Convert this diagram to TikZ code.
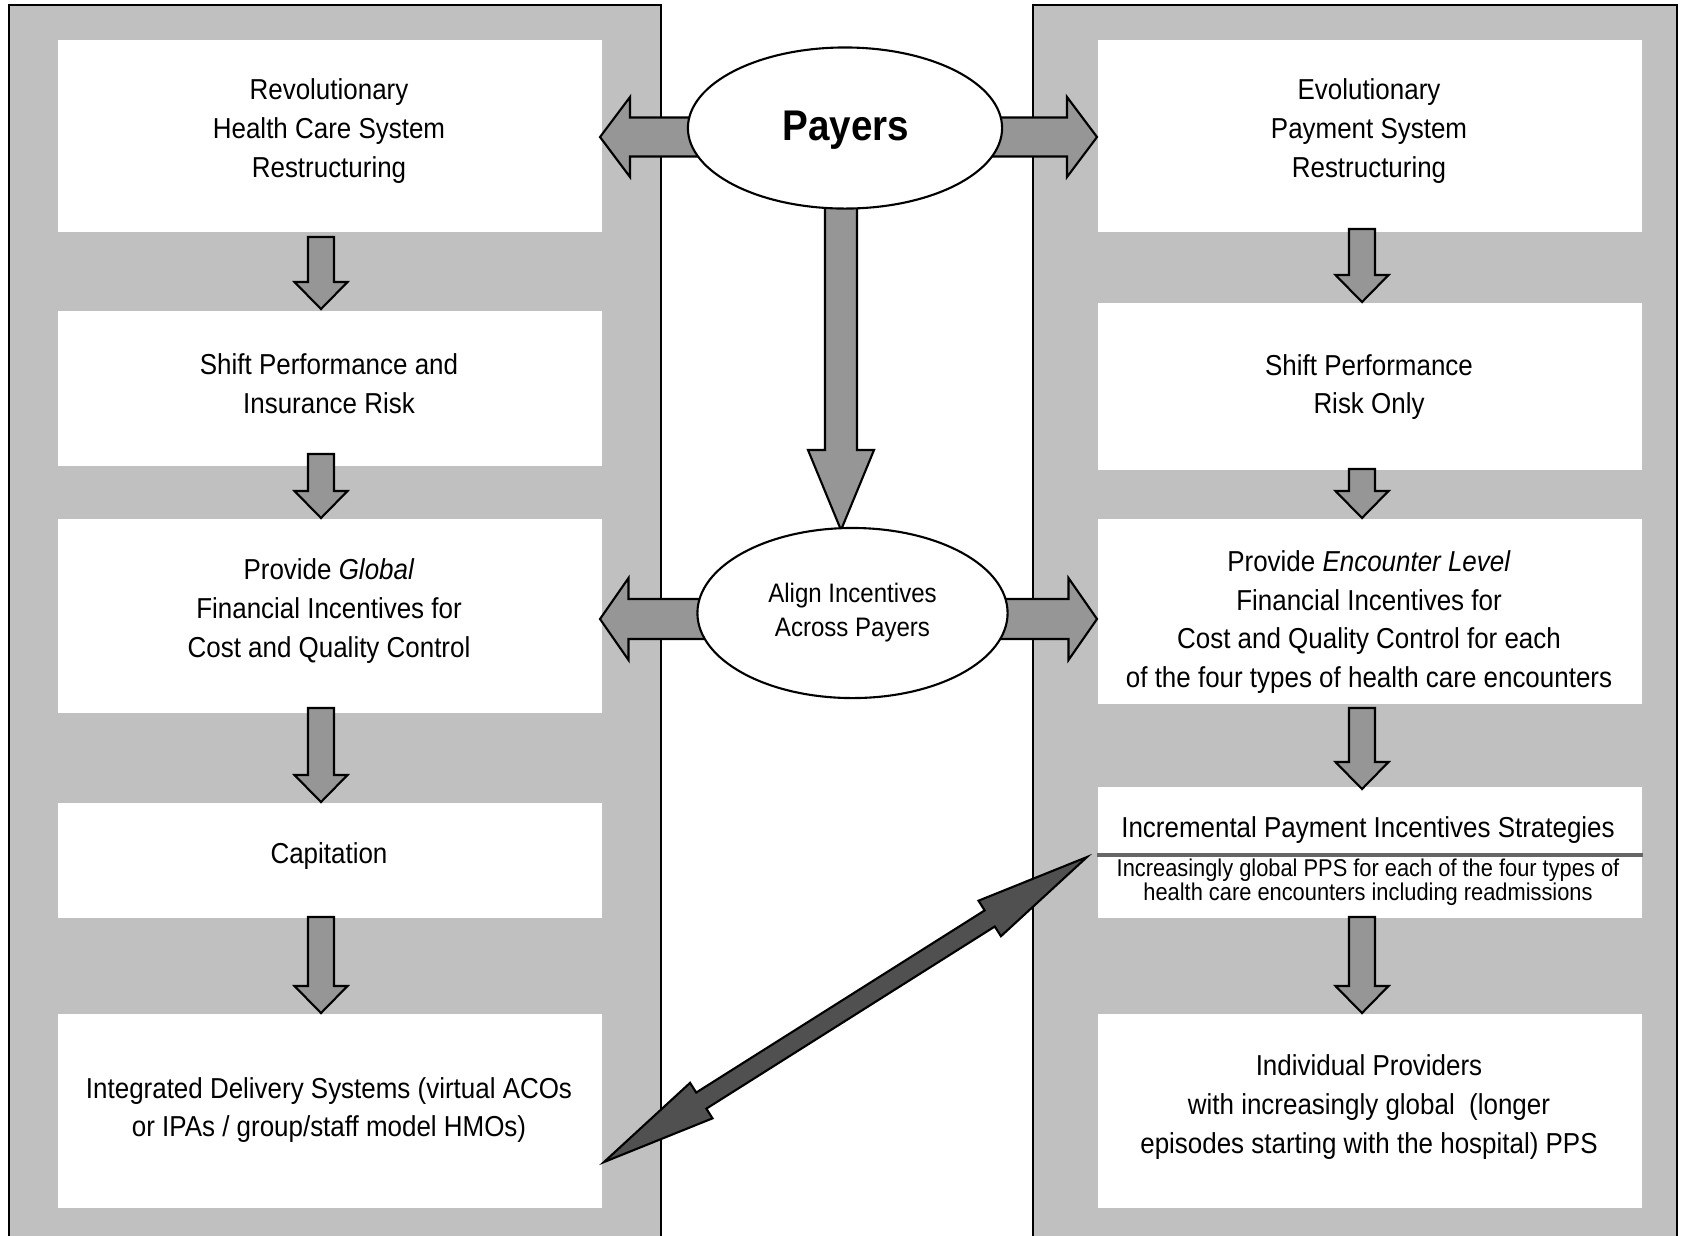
\documentclass[tikz,border=0pt]{standalone}
\usepackage{fontspec}
\setmainfont{Liberation Sans}[FakeStretch=0.90]
\usetikzlibrary{calc,shapes.geometric}
\definecolor{panelgray}{HTML}{C0C0C0}
\definecolor{arrowgray}{HTML}{969696}
\definecolor{darkarrow}{HTML}{505050}
\definecolor{divgray}{HTML}{666666}
% block arrow: [style]{start}{tip}{shaft half}{head half}{head length}
\newcommand\blockarrow[6][barrow]{%
  \coordinate (baB) at ($(#3)!#6!(#2)$);
  \path[#1] ($(#2)!#4!90:(#3)$) -- ($(baB)!#4!90:(#3)$) -- ($(baB)!#5!90:(#3)$) -- (#3)
     -- ($(baB)!#5!-90:(#3)$) -- ($(baB)!#4!-90:(#3)$) -- ($(#2)!#4!-90:(#3)$) -- cycle;}
% double block arrow: {A}{B}{shaft half}{head half}{head length}
\newcommand\dblarrow[5]{%
  \coordinate (daA) at ($(#1)!#5!(#2)$);
  \coordinate (daB) at ($(#2)!#5!(#1)$);
  \path[darrow] (#1) -- ($(daA)!#4!90:(#2)$) -- ($(daA)!#3!90:(#2)$) -- ($(daB)!#3!90:(#2)$)
     -- ($(daB)!#4!90:(#2)$) -- (#2) -- ($(daB)!#4!-90:(#2)$) -- ($(daB)!#3!-90:(#2)$)
     -- ($(daA)!#3!-90:(#2)$) -- ($(daA)!#4!-90:(#2)$) -- cycle;}
\begin{document}
\begin{tikzpicture}[x=0.01cm, y=-0.01cm,
  panel/.style={fill=panelgray, draw=black, line width=0.5pt},
  wbox/.style={fill=white, draw=none, inner sep=0pt, anchor=north west, minimum width=5.44cm},
  barrow/.style={fill=arrowgray, draw=black, line width=0.6pt, line join=miter},
  darrow/.style={fill=darkarrow, draw=black, line width=0.6pt, line join=miter},
  ell/.style={ellipse, draw=black, fill=white, line width=0.6pt, inner sep=0pt},
  txt/.style={font=\fontsize{8.2pt}{11.03pt}\selectfont, align=center, inner sep=0pt},
  subtxt/.style={font=\fontsize{6.9pt}{6.75pt}\selectfont, align=center, inner sep=0pt},
  aligntxt/.style={font=\fontsize{7.6pt}{9.67pt}\selectfont, align=center},
  payerstxt/.style={font=\fontsize{12.2pt}{14pt}\selectfont\bfseries, inner sep=0pt},
  divider/.style={draw=divgray, line width=1.3pt}]
\useasboundingbox (0,0) rectangle (1688,1235);
\clip (0,0) rectangle (1688,1235);
\fill[white] (0,0) rectangle (1688,1235);
% panels
\path[panel] (9,5) rectangle (661,1260);
\path[panel] (1033,5) rectangle (1677,1260);
% left boxes
\node[wbox, minimum height=1.92cm] (L1) at (57,39) {};
\node[wbox, minimum height=1.55cm] (L2) at (57,310) {};
\node[wbox, minimum height=1.94cm] (L3) at (57,518) {};
\node[wbox, minimum height=1.15cm] (L4) at (57,802) {};
\node[wbox, minimum height=1.94cm] (L5) at (57,1013) {};
% right boxes
\node[wbox, minimum height=1.92cm] (R1) at (1097,39) {};
\node[wbox, minimum height=1.67cm] (R2) at (1097,302) {};
\node[wbox, minimum height=1.85cm] (R3) at (1097,518) {};
\node[wbox, minimum height=1.31cm] (R4) at (1097,786) {};
\node[wbox, minimum height=1.94cm] (R5) at (1097,1013) {};
\coordinate (divy) at (0,855);
\draw[divider] (R4.west |- divy) -- (R4.east |- divy);
% texts
\node[txt] (L1t) at (329,131) {Revolutionary\\Health Care System\\Restructuring};
\node[txt] (L2t) at (329,384) {Shift Performance and\\Insurance Risk};
\node[txt] (L3t) at (329,611) {Provide \textit{Global}\\Financial Incentives for\\Cost and Quality Control};
\node[txt] (L4t) at (329,856) {Capitation};
\node[txt] (L5t) at (329,1110) {Integrated Delivery Systems (virtual ACOs\\or IPAs / group/staff model HMOs)};
\node[txt] (R1t) at (1369,131) {Evolutionary\\Payment System\\Restructuring};
\node[txt] (R2t) at (1369,387) {Shift Performance\\Risk Only};
\node[txt] (R3t) at (1369,622) {Provide \textit{Encounter Level}\\Financial Incentives for\\Cost and Quality Control for each\\of the four types of health care encounters};
\node[txt] (R4t) at (1368,830) {Incremental Payment Incentives Strategies};
\node[subtxt] (R4s) at (1368,882) {Increasingly global PPS for each of the four types of\\health care encounters including readmissions};
\node[txt] (R5t) at (1369,1107) {Individual Providers\\with increasingly global~ (longer\\episodes starting with the hospital) PPS};
% vertical block arrows
\coordinate (vL1s) at (321,237);  \coordinate (vL1t) at (321,309);
\coordinate (vL2s) at (321,454);  \coordinate (vL2t) at (321,518);
\coordinate (vL3s) at (321,708);  \coordinate (vL3t) at (321,802);
\coordinate (vL4s) at (321,917);  \coordinate (vL4t) at (321,1013);
\coordinate (vR1s) at (1362,229); \coordinate (vR1t) at (1362,302);
\coordinate (vR2s) at (1362,469); \coordinate (vR2t) at (1362,518);
\coordinate (vR3s) at (1362,708); \coordinate (vR3t) at (1362,789);
\coordinate (vR4s) at (1362,917); \coordinate (vR4t) at (1362,1013);
\foreach \a in {vL1,vL2,vL3,vL4,vR1,vR2,vR3,vR4}{
  \blockarrow{\a s}{\a t}{0.13cm}{0.265cm}{0.27cm}
}
% arrows from the ellipses
\coordinate (pLs) at (760,137); \coordinate (pLt) at (600,137);
\coordinate (pRs) at (930,137); \coordinate (pRt) at (1097,137);
\coordinate (pDs) at (841,190); \coordinate (pDt) at (841,530);
\coordinate (aLs) at (760,619); \coordinate (aLt) at (600,619);
\coordinate (aRs) at (940,619); \coordinate (aRt) at (1097,619);
\blockarrow{pLs}{pLt}{0.195cm}{0.40cm}{0.30cm}
\blockarrow{pRs}{pRt}{0.195cm}{0.40cm}{0.30cm}
\blockarrow{pDs}{pDt}{0.16cm}{0.33cm}{0.80cm}
\blockarrow{aLs}{aLt}{0.20cm}{0.41cm}{0.285cm}
\blockarrow{aRs}{aRt}{0.20cm}{0.41cm}{0.285cm}
% diagonal double arrow
\coordinate (dA) at (604,1162); \coordinate (dB) at (1087,857);
\dblarrow{dA}{dB}{0.095cm}{0.21cm}{1.15cm}
% ellipses
\node[ell, minimum width=3.14cm, minimum height=1.61cm] (payers) at (845,128) {};
\node[payerstxt] (payerst) at (846,130) {Payers};
\node[ell, aligntxt, minimum width=3.10cm, minimum height=1.70cm] (align) at (852.5,613) {Align Incentives\\Across Payers};
\end{tikzpicture}
\end{document}
